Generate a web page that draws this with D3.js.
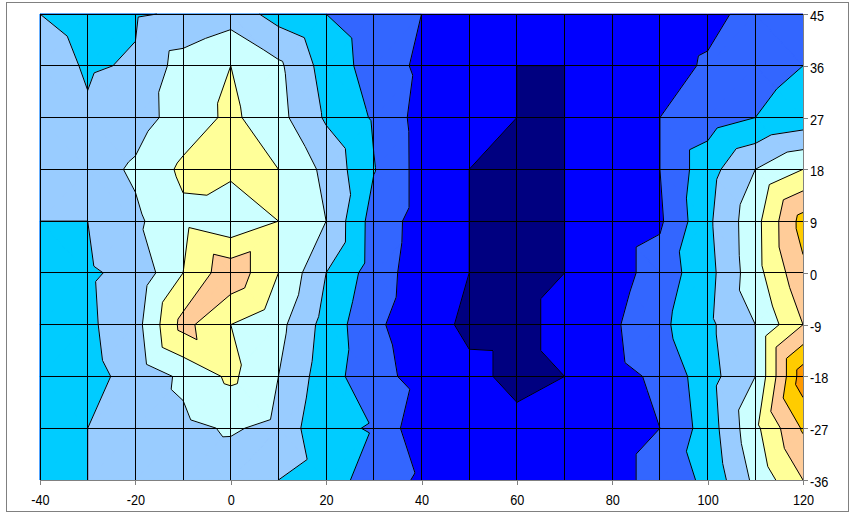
<!DOCTYPE html>
<html>
<head>
<meta charset="utf-8">
<script src="https://cdn.jsdelivr.net/npm/d3@7"></script>
<style>
  body { margin: 0; background: #fff; }
  svg { display: block; }
</style>
</head>
<body>
<div id="chart"></div>
<script>
// grid positions
const xValues = [-40, -30, -20, -10, 0, 10, 20, 30, 40, 50, 60, 70, 80, 90, 100, 110, 120];
const yValues = [45, 36, 27, 18, 9, 0, -9, -18, -27, -36];
const xTicks = [-40, -20, 0, 20, 40, 60, 80, 100, 120];

// contour levels and the colour of each band (band k is k < z <= k+1)
const levels = [1, 2, 3, 4, 5, 6, 7, 8, 9];
const bandColors = ["#000080", "#0000FF", "#3366FF", "#00CCFF", "#99CCFF",
                    "#CCFFFF", "#FFFF99", "#FFCC99", "#FFCC00", "#FF9900"];

// z values, one row per y, read left (-40) to right (120)
const z45  = [4.0, 3.7, 3.91, 4.11, 4.57, 3.62, 3.0, 2.5, 2.0, 1.5, 1.4, 1.4, 1.5, 1.5, 1.7, 2.34, 2.6];
const z36  = [4.4, 3.91, 4.08, 5.45, 6.0, 5.19, 3.58, 2.58, 1.8, 1.4, 1.0, 1.0, 1.5, 1.6, 2.12, 2.7, 3.0];
const z27  = [4.5, 4.1, 4.57, 5.43, 6.21, 5.32, 3.87, 2.89, 1.62, 1.15, 1.0, 1.0, 1.5, 2.0, 2.5, 3.0, 3.37];
const z18  = [4.5, 4.55, 5.15, 6.2, 6.24, 6.0, 4.75, 3.05, 1.63, 1.0, 0.8, 1.0, 1.5, 2.0, 3.61, 5.0, 6.0];
const z9   = [4.0, 4.0, 4.81, 5.76, 5.2, 6.0, 5.0, 2.56, 1.63, 1.0, 0.8, 1.0, 1.55, 1.85, 3.8, 5.65, 8.4];
const z0   = [3.5, 3.88, 4.25, 6.0, 7.7, 6.0, 4.0, 2.53, 1.47, 1.0, 0.8, 1.0, 1.55, 2.45, 3.65, 5.61, 7.78];
const zm9  = [3.5, 3.83, 4.6, 7.33, 6.0, 5.3, 3.63, 2.2, 1.4, 0.82, 0.8, 1.2, 1.83, 2.77, 3.78, 5.0, 7.0];
const zm18 = [3.5, 3.73, 4.29, 5.2, 6.2, 5.0, 3.46, 2.31, 1.69, 1.2, 0.8, 1.0, 1.72, 2.16, 3.61, 5.0, 9.6];
const zm27 = [3.5, 4.0, 4.4, 4.77, 5.1, 4.76, 3.14, 2.95, 1.25, 1.35, 1.2, 1.3, 1.56, 2.0, 3.45, 5.75, 8.12];
const zm36 = [3.5, 4.0, 4.4, 4.5, 4.47, 4.0, 3.5, 2.52, 1.85, 1.5, 1.5, 1.5, 1.56, 2.44, 3.19, 5.25, 7.0];
const rows = [z45, z36, z27, z18, z9, z0, zm9, zm18, zm27, zm36];

const width = 851, height = 514;
const fontFamily = '"Liberation Sans", Arial, sans-serif';

const svg = d3.select("#chart").append("svg")
    .attr("width", width)
    .attr("height", height);

const x = d3.scaleLinear().domain([-40, 120]).range([40, 803]);
const y = d3.scaleLinear().domain([-36, 45]).range([480, 14]);

// outer chart frame
svg.append("rect")
    .attr("x", 6.5).attr("y", 2.5)
    .attr("width", 842).attr("height", 509)
    .attr("fill", "#fff")
    .attr("stroke", "#808080");

function node(i, j) {
    return { px: x(xValues[i]), py: y(yValues[j]), v: rows[j][i] };
}

// every grid cell is cut in two triangles, along the diagonal with the higher sum
let triangles = [];
for (let j = 0; j < yValues.length - 1; j++) {
    for (let i = 0; i < xValues.length - 1; i++) {
        const tl = node(i, j), tr = node(i + 1, j), bl = node(i, j + 1), br = node(i + 1, j + 1);
        if (tl.v + br.v > tr.v + bl.v) triangles.push([tl, tr, br], [tl, br, bl]);
        else triangles.push([tl, tr, bl], [tr, br, bl]);
    }
}

function lerp(a, b, t) {
    const f = (t - a.v) / (b.v - a.v);
    return { px: a.px + f * (b.px - a.px), py: a.py + f * (b.py - a.py), v: t };
}

// part of a triangle where z >= t
function clipAbove(poly, t) {
    const out = [];
    poly.forEach((a, k) => {
        const b = poly[(k + 1) % poly.length];
        if (a.v >= t) out.push(a);
        if ((a.v >= t) !== (b.v >= t)) out.push(lerp(a, b, t));
    });
    return out;
}

// the iso line z = t inside one triangle
function isoSegment(tri, t) {
    const pts = [];
    tri.forEach((a, k) => {
        const b = tri[(k + 1) % 3];
        if (a.v === t) pts.push(a);
        else if ((a.v - t) * (b.v - t) < 0) pts.push(lerp(a, b, t));
    });
    if (pts.length !== 2) return null;
    if (pts[0].v === t && pts[1].v === t && tri.every(p => p.v <= t)) return null;
    return pts;
}

const line = d3.line().x(d => d.px).y(d => d.py);

const plot = svg.append("g");

// lowest band as background
plot.append("rect")
    .attr("x", x(-40)).attr("y", y(45))
    .attr("width", x(120) - x(-40)).attr("height", y(-36) - y(45))
    .attr("fill", bandColors[0]);

// each level painted on top of the previous one
levels.forEach((t, k) => {
    const d = triangles
        .map(tri => clipAbove(tri, t))
        .filter(p => p.length >= 3 && p.some(q => q.v > t))
        .map(p => line(p) + "Z")
        .join("");
    plot.append("path")
        .attr("d", d)
        .attr("fill", bandColors[k + 1])
        .attr("stroke", bandColors[k + 1])
        .attr("stroke-width", 0.7)
        .attr("stroke-linejoin", "round");
});

// contour lines
let segs = [];
levels.forEach(t => {
    triangles.forEach(tri => {
        const s = isoSegment(tri, t);
        if (s) segs.push(s);
    });
});
plot.append("path")
    .attr("d", segs.map(s => line(s)).join(""))
    .attr("fill", "none")
    .attr("stroke", "#000")
    .attr("stroke-width", 1);

// grid lines
const grid = svg.append("g")
    .attr("stroke", "#000")
    .attr("stroke-width", 1)
    .attr("shape-rendering", "crispEdges");
grid.selectAll("line.v")
    .data(xValues)
    .enter().append("line")
    .attr("class", "v")
    .attr("x1", d => x(d)).attr("x2", d => x(d))
    .attr("y1", y(45)).attr("y2", y(-36));
grid.selectAll("line.h")
    .data(yValues)
    .enter().append("line")
    .attr("class", "h")
    .attr("x1", x(-40)).attr("x2", x(120))
    .attr("y1", d => y(d)).attr("y2", d => y(d));

// axes
const xAxis = svg.append("g")
    .attr("transform", `translate(0,${y(-36)})`)
    .call(d3.axisBottom(x).tickValues(xTicks).tickSize(5).tickSizeOuter(0).tickFormat(d => String(d)));
const yAxis = svg.append("g")
    .attr("transform", `translate(${x(120)},0)`)
    .call(d3.axisRight(y).tickValues(yValues).tickSize(5).tickSizeOuter(0).tickFormat(d => String(d)));

[xAxis, yAxis].forEach(g => {
    g.attr("color", "#808080")
        .attr("font-family", fontFamily)
        .attr("font-size", 15.5);
    g.selectAll("line, path").attr("shape-rendering", "crispEdges");
    g.selectAll("text").attr("fill", "#000");
});

xAxis.selectAll("text")
    .attr("y", 25)
    .attr("dy", null)
    .attr("transform", "scale(0.82,1)");
yAxis.selectAll("text")
    .attr("x", null)
    .attr("dy", null)
    .attr("transform", "translate(7,6.5) scale(0.82,1)");
</script>
</body>
</html>
